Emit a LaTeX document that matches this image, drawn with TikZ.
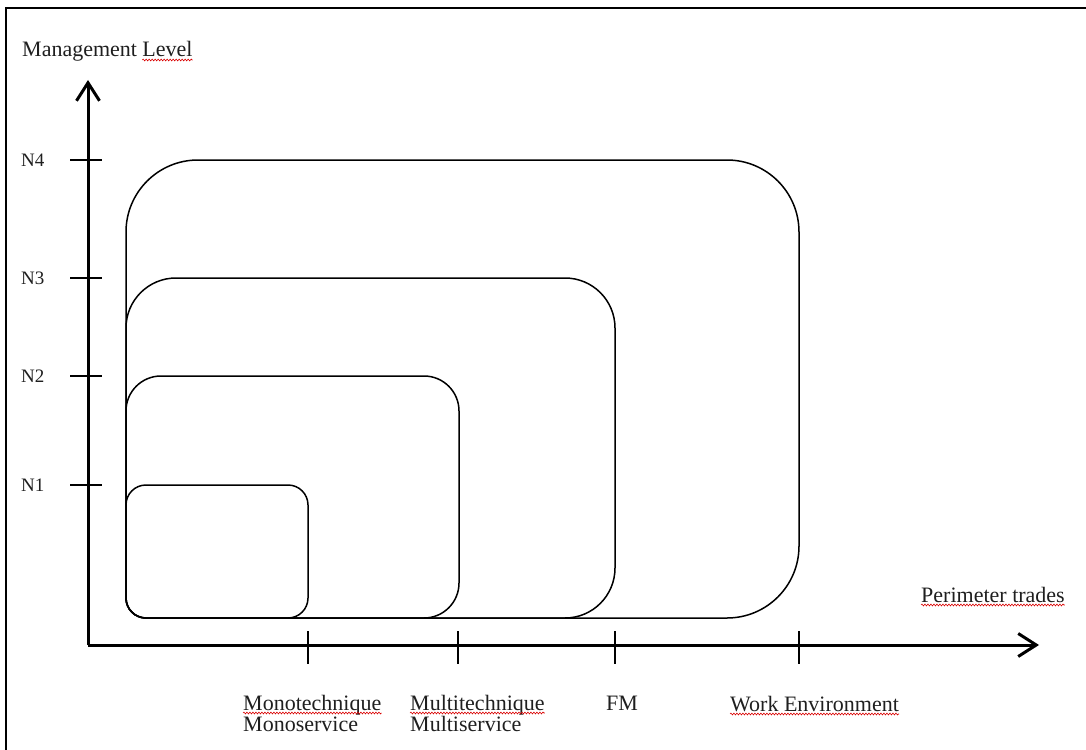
\documentclass[tikz,border=0pt]{standalone}
\usepackage{fontspec}
\setmainfont{Liberation Serif}
\usetikzlibrary{arrows.meta,decorations.pathmorphing}
\tikzset{
  frameline/.style={line width=2.4pt, black},
  axis/.style={line width=3pt, -{Straight Barb[length=18pt,width=23pt,line width=3pt]}},
  tickmark/.style={line width=1.4pt},
  levelbox/.style={draw, line width=1.5pt},
  lbl/.style={inner sep=0pt, anchor=base west, font=\fontsize{22}{22}\selectfont, text=black!88},
  wavy/.style={red!85!black, line width=0.6pt, decorate, decoration={snake, amplitude=0.9pt, segment length=3pt}}
}
% #1 right x, #2 top y, #3 radius of the three large corners, #4 middle y, #5 middle x
\newcommand\levelpath[5]{%
  \draw[levelbox] (126,#4) [rounded corners=#3pt] -- (126,#2)
    -- (#1,#2) -- (#1,618) -- (#5,618)
    [rounded corners=20pt] -- (126,618) -- (126,#4);}
\begin{document}
\begin{tikzpicture}[x=1pt,y=-1pt]
\useasboundingbox (0,0) rectangle (1086,749);
% outer frame (cropped on right and bottom)
\coordinate (fTL) at (6,8);
\coordinate (fTR) at (1090,8);
\coordinate (fBL) at (6,753);
\draw[frameline] (fTR) -- (fTL) -- (fBL);

% level boxes
\levelpath{799}{160}{72}{389}{462}
\levelpath{615}{278}{50}{448}{370}
\levelpath{459}{376}{35}{497}{292}
\levelpath{308}{485}{20}{551}{217}

% axes
\coordinate (O) at (88,645);
\coordinate (ytip) at (88,80);
\coordinate (xtip) at (1039,645);
\draw[axis] (O) -- (ytip);
\draw[axis] (O) -- (xtip);

% y ticks
\foreach \n/\yy in {4/160,3/278,2/376,1/485}{
  \coordinate (yl\n) at (70,\yy);
  \coordinate (yr\n) at (102,\yy);
  \draw[tickmark] (yl\n) -- (yr\n);
  \node[lbl, anchor=west, font=\fontsize{19}{20}\selectfont] (N\n) at (21,\yy) {N\n};
}
% x ticks
\foreach \i/\xx in {1/308,2/458,3/615,4/799}{
  \coordinate (xt\i) at (\xx,631);
  \coordinate (xb\i) at (\xx,664);
  \draw[tickmark] (xt\i) -- (xb\i);
}

% labels
\node[lbl] (ylab1) at (22,57) {Management};
\node[lbl] (ylab2) at ([xshift=5pt]ylab1.base east) {Level};
\node[lbl] (xlab) at (921,602) {Perimeter trades};
\node[lbl] (mono1) at (243,710) {Monotechnique};
\node[lbl] (mono2) at (243,731) {Monoservice};
\node[lbl] (multi1) at (410,710) {Multitechnique};
\node[lbl] (multi2) at (410,731) {Multiservice};
\node[lbl] (fm) at (606,710) {FM};
\node[lbl] (we) at (730,711) {Work Environment};

% spell-check marks
\foreach \w in {ylab2,xlab,mono1,multi1,we}{
  \draw[wavy] ([yshift=-3pt]\w.base west) -- ([yshift=-3pt]\w.base east);
}
\end{tikzpicture}
\end{document}
